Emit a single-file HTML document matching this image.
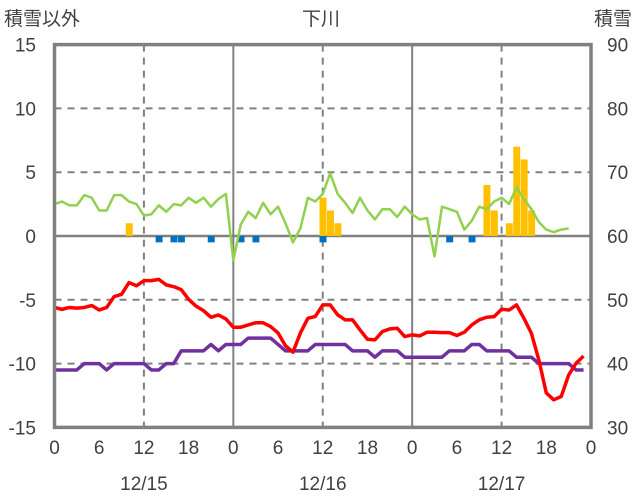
<!DOCTYPE html>
<html><head><meta charset="utf-8"><style>
html,body{margin:0;padding:0;background:#fff;}
svg{display:block;font-family:"Liberation Sans","Noto Sans CJK JP",sans-serif;}
</style></head><body>
<svg id="chart" width="636" height="501" viewBox="0 0 636 501" xmlns="http://www.w3.org/2000/svg">
<text x="4" y="25" font-size="19" fill="#404040">積雪以外</text>
<text x="321" y="25" font-size="19" fill="#404040" text-anchor="middle">下川</text>
<text x="632" y="25" font-size="19" fill="#404040" text-anchor="end">積雪</text>
<g id="grid"></g><g id="bars"></g><g id="lines"></g><g id="axes"></g>
</svg>
<script>
const leftTicks=[15,10,5,0,-5,-10,-15];
const rightTicks=[90,80,70,60,50,40,30];
const hourLabels=["0","6","12","18","0","6","12","18","0","6","12","18","0"];
const dateLabels=["12/15","12/16","12/17"];
const greenVals=[2.5,2.7,2.4,2.4,3.2,3.0,2.0,2.0,3.2,3.2,2.7,2.5,1.6,1.7,2.4,1.9,2.5,2.4,3.0,2.6,3.0,2.3,2.9,3.3,-1.9,0.9,1.9,1.4,2.6,1.7,2.3,1.0,-0.5,0.6,3.0,2.7,3.3,4.9,3.3,2.6,1.8,3.0,2.0,1.3,2.1,2.1,1.5,2.3,1.7,1.3,1.4,-1.6,2.3,2.1,1.9,0.5,1.2,2.3,2.1,2.7,3.0,2.5,3.8,2.9,2.1,1.1,0.5,0.3,0.5,0.6];
const redVals=[-5.6,-5.75,-5.6,-5.65,-5.6,-5.45,-5.8,-5.6,-4.75,-4.57,-3.65,-3.9,-3.5,-3.5,-3.4,-3.83,-3.97,-4.2,-4.96,-5.5,-5.85,-6.37,-6.19,-6.5,-7.15,-7.15,-6.97,-6.8,-6.8,-7.1,-7.6,-8.6,-9.1,-7.6,-6.45,-6.3,-5.4,-5.4,-6.18,-6.57,-6.57,-7.36,-8.09,-8.14,-7.49,-7.28,-7.23,-7.88,-7.75,-7.83,-7.54,-7.54,-7.57,-7.57,-7.8,-7.54,-6.97,-6.57,-6.37,-6.32,-5.74,-5.8,-5.4,-6.45,-7.62,-9.71,-12.3,-12.84,-12.58,-10.9,-9.97,-9.4];
const snowDepth=[39,39,39,39,40,40,40,39,40,40,40,40,40,39,39,40,40,42,42,42,42,43,42,43,43,43,44,44,44,44,43,42,42,42,42,43,43,43,43,43,42,42,42,41,42,42,42,41,41,41,41,41,41,42,42,42,43,43,42,42,42,42,41,41,41,40,40,40,40,40,39,39];
const snowfallHours=[10,36,37,38,58,59,61,62,63,64];
const snowfallVals=[1,3,2,1,4,2,1,7,6,2];
const blueHours=[14,16,17,21,25,27,36,53,56];
const blueVals=[-0.5,-0.5,-0.5,-0.5,-0.5,-0.5,-0.5,-0.5,-0.5];

const NS="http://www.w3.org/2000/svg";
const X0=54.5,X1=591,Y0=44.6,Y1=427.4;
const xs=h=>X0+(X1-X0)*h/72;
const yL=v=>Y0+(15-v)*(Y1-Y0)/30;
const yR=v=>Y0+(90-v)*(Y1-Y0)/60;
function mk(tag,parent,attrs){const e=document.createElementNS(NS,tag);for(const k in attrs)e.setAttribute(k,attrs[k]);parent.appendChild(e);return e;}
const grid=document.getElementById('grid'),bars=document.getElementById('bars'),lines=document.getElementById('lines'),axes=document.getElementById('axes');

leftTicks.forEach((t,i)=>{
  const y=yL(t);
  if(t!==15&&t!==-15&&t!==0){const l=mk('line',grid,{x1:X0,x2:X1,y1:y,y2:y,stroke:'#808080','stroke-width':2,'stroke-dasharray':'7,6'});
  
  }
  const tx=mk('text',axes,{x:36,y:y+7,'font-size':19,fill:'#404040','text-anchor':'end'});tx.textContent=t;
  
  
});
rightTicks.forEach(t=>{
  const tx=mk('text',axes,{x:607,y:yR(t)+7,'font-size':19,fill:'#404040'});tx.textContent=t;
  
  
});
for(let h=12;h<72;h+=12){
  const solid=h%24===0;
  const l=mk('line',grid,{x1:xs(h),x2:xs(h),y1:Y0,y2:Y1,stroke:'#808080','stroke-width':2});
  if(!solid)l.setAttribute('stroke-dasharray','7,6');
  
  
}
hourLabels.forEach((s,i)=>{
  const tx=mk('text',axes,{x:xs(i*6),y:454,'font-size':19,fill:'#404040','text-anchor':'middle'});tx.textContent=s;
  
  
});
dateLabels.forEach((s,i)=>{
  const tx=mk('text',axes,{x:xs(12+24*i),y:490,'font-size':19,fill:'#404040','text-anchor':'middle'});tx.textContent=s;
  
  
});
const bw=(X1-X0)/72;
snowfallHours.forEach((h,i)=>{
  const v=snowfallVals[i];
  const r=mk('rect',bars,{x:xs(h)-bw/2+0.5,y:yL(v),width:bw-0.5,height:yL(0)-yL(v),fill:'#FFC000'});
  
  
});
blueHours.forEach((h,i)=>{
  const v=blueVals[i];
  const r=mk('rect',bars,{x:xs(h)-bw/2+0.5,y:yL(0),width:bw-0.5,height:yL(v)-yL(0),fill:'#0070C0'});
  
  
});
const zl=mk('line',grid,{x1:X0,x2:X1,y1:yL(0),y2:yL(0),stroke:'#808080','stroke-width':2.5});


function poly(vals,fy,color,w,name){
  const p=mk('polyline',lines,{points:vals.map((v,i)=>xs(i)+','+fy(v)).join(' '),fill:'none',stroke:color,'stroke-width':w,'stroke-linejoin':'round'});
  
  
}
poly(greenVals,yL,'#92D050',2.5,'green-series-line');
poly(snowDepth,yR,'#7030A0',3.5,'snow-depth-line');
poly(redVals,yL,'#FF0000',3.5,'temperature-line');
const fr=mk('rect',axes,{x:X0,y:Y0,width:X1-X0,height:Y1-Y0,fill:'none',stroke:'#808080','stroke-width':3.5});


</script>
</body></html>
